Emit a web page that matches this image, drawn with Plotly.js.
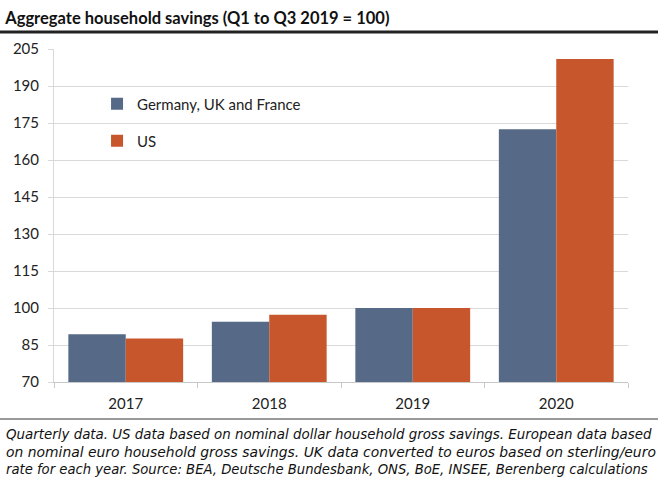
<!DOCTYPE html>
<html><head><meta charset="utf-8">
<script src="https://cdn.plot.ly/plotly-3.0.1.min.js"></script>
<style>html,body{margin:0;padding:0;background:#fff}#c{width:658px;height:479px}</style>
</head><body><div id="c"></div>
<script>
const years = ['2017', '2018', '2019', '2020'];
const europe = [89.4, 94.4, 100, 172.5];
const us = [87.6, 97.3, 100, 200.9];
const yTicks = [70, 85, 100, 115, 130, 145, 160, 175, 190, 205];
const titleText = 'Aggregate household savings (Q1 to Q3 2019 = 100)';
const notes = [
  'Quarterly data. US data based on nominal dollar household gross savings. European data based',
  'on nominal euro household gross savings. UK data converted to euros based on sterling/euro',
  'rate for each year. Source: BEA, Deutsche Bundesbank, ONS, BoE, INSEE, Berenberg calculations'
];
const noteSizes = [13.4, 13.9, 13.2];
const blue = '#566a87', orange = '#c8562c';
const F = 'Lato, "Open Sans", sans-serif';
const FN = '"DejaVu Sans", sans-serif';

const traces = [
  {type: 'bar', x: years, y: europe, name: 'Germany, UK and France', marker: {color: blue}, legend: 'legend'},
  {type: 'bar', x: years, y: us, name: 'US', marker: {color: orange}, legend: 'legend2'}
];

const layout = {
  width: 658, height: 479,
  margin: {l: 54, r: 30, t: 49, b: 97},
  paper_bgcolor: '#fff', plot_bgcolor: '#fff',
  font: {family: F, color: '#333', size: 13},
  barmode: 'group', bargap: 0.2, bargroupgap: 0,
  title: {text: '<b>' + titleText + '</b>', x: 0.008, xanchor: 'left', xref: 'container',
          y: 1 - 18/479, yanchor: 'middle', yref: 'container',
          font: {family: F, size: 16.5, color: '#111'}},
  xaxis: {type: 'category', showline: true, linecolor: '#c8c8c8', linewidth: 1,
          ticks: 'outside', tickson: 'boundaries', ticklen: 5, tickcolor: '#c8c8c8',
          ticklabelstandoff: 8,
          tickfont: {size: 15, color: '#222'}, showgrid: false},
  yaxis: {range: [70, 205], tickvals: yTicks, showgrid: true, gridcolor: '#d9d9d9',
          showline: true, linecolor: '#d9d9d9', ticks: 'outside', ticklen: 5, tickcolor: '#d9d9d9',
          ticklabelstandoff: 6,
          tickfont: {size: 15, color: '#222'}, zeroline: false},
  showlegend: true,
  legend: {x: 0.075, y: 1 - (104-49)/333, xanchor: 'left', yanchor: 'middle', bgcolor: 'rgba(0,0,0,0)',
           font: {size: 15, color: '#222'}, itemwidth: 30},
  legend2: {x: 0.075, y: 1 - (141-49)/333, xanchor: 'left', yanchor: 'middle', bgcolor: 'rgba(0,0,0,0)',
           font: {size: 15, color: '#222'}, itemwidth: 30},
  shapes: [
    {type: 'line', xref: 'paper', yref: 'paper', x0: -54/574, x1: 1 + 30/574, y0: 1 + 17/333, y1: 1 + 17/333,
     line: {color: '#222', width: 3}},
    {type: 'line', xref: 'paper', yref: 'paper', x0: -54/574, x1: 1 + 30/574, y0: -37/333, y1: -37/333,
     line: {color: '#777', width: 1.5}}
  ],
  annotations: notes.map((t, i) => ({
    text: '<i>' + t + '</i>', xref: 'paper', yref: 'paper', x: -50/574, xanchor: 'left',
    y: -(434 + i*17.5 - 382)/333, yanchor: 'middle', showarrow: false,
    font: {family: FN, size: noteSizes[i], color: '#111'}
  }))
};

Plotly.newPlot('c', traces, layout, {displayModeBar: false, staticPlot: true});
</script></body></html>
